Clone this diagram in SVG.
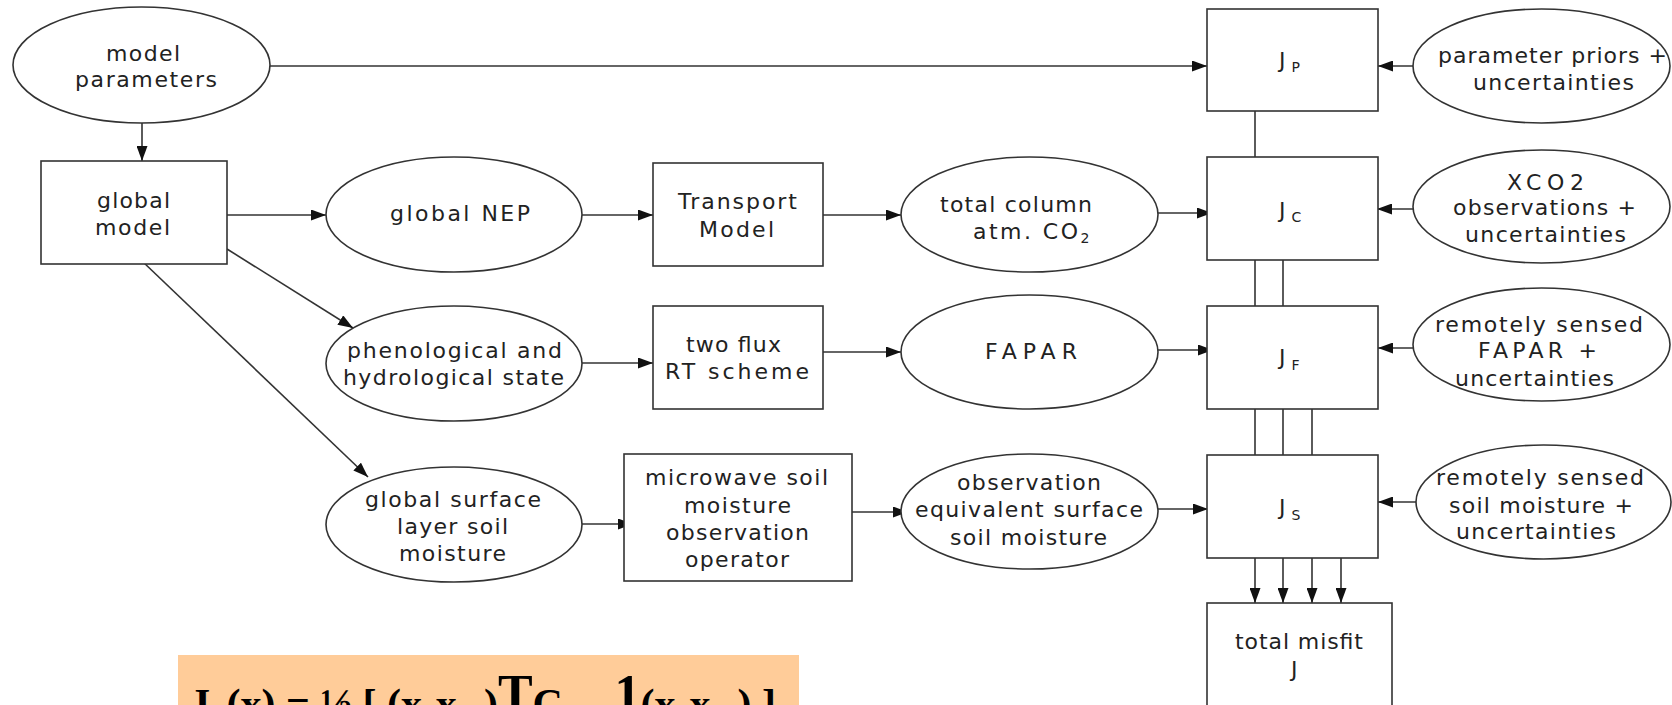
<svg xmlns="http://www.w3.org/2000/svg" width="1672" height="705" viewBox="0 0 1672 705">
<style>
.n ellipse, .n rect { fill:#fff; stroke:#333; stroke-width:1.6; }
.t { font-family:"DejaVu Sans", sans-serif; font-size:22px; fill:#222; }
.s { font-family:"DejaVu Sans", sans-serif; font-size:14px; fill:#222; }
#connectors line { stroke:#333; stroke-width:1.6; fill:none; }
.f { font-family:"Liberation Serif", serif; font-weight:bold; fill:#000; }
</style>
<defs>
<marker id="ah" markerUnits="userSpaceOnUse" markerWidth="15" markerHeight="11" refX="15" refY="5.5" orient="auto">
<path d="M0,0 L15,5.5 L0,11 z" fill="#111"/>
</marker>
</defs>
<rect width="1672" height="705" fill="#fff"/>

<g id="connectors">
<line x1="142" y1="123" x2="142" y2="161" marker-end="url(#ah)"/>
<line x1="270" y1="66" x2="1207" y2="66" marker-end="url(#ah)"/>
<line x1="227" y1="215" x2="326" y2="215" marker-end="url(#ah)"/>
<line x1="227" y1="249" x2="353" y2="328" marker-end="url(#ah)"/>
<line x1="142" y1="261" x2="368" y2="477" marker-end="url(#ah)"/>
<line x1="582" y1="215" x2="653" y2="215" marker-end="url(#ah)"/>
<line x1="582" y1="363" x2="653" y2="363" marker-end="url(#ah)"/>
<line x1="578" y1="524" x2="633" y2="524" marker-end="url(#ah)"/>
<line x1="823" y1="215" x2="901" y2="215" marker-end="url(#ah)"/>
<line x1="823" y1="352" x2="901" y2="352" marker-end="url(#ah)"/>
<line x1="838" y1="512" x2="908" y2="512" marker-end="url(#ah)"/>
<line x1="1158" y1="213" x2="1212" y2="213" marker-end="url(#ah)"/>
<line x1="1158" y1="350" x2="1213" y2="350" marker-end="url(#ah)"/>
<line x1="1158" y1="509" x2="1208" y2="509" marker-end="url(#ah)"/>
<line x1="1415" y1="66" x2="1378" y2="66" marker-end="url(#ah)"/>
<line x1="1413" y1="209" x2="1377" y2="209" marker-end="url(#ah)"/>
<line x1="1415" y1="348" x2="1378" y2="348" marker-end="url(#ah)"/>
<line x1="1418" y1="502" x2="1378" y2="502" marker-end="url(#ah)"/>
<line x1="1255" y1="111" x2="1255" y2="157"/>
<line x1="1255" y1="260" x2="1255" y2="306"/>
<line x1="1283" y1="260" x2="1283" y2="306"/>
<line x1="1255" y1="409" x2="1255" y2="455"/>
<line x1="1283" y1="409" x2="1283" y2="455"/>
<line x1="1312" y1="409" x2="1312" y2="455"/>
<line x1="1255" y1="558" x2="1255" y2="603" marker-end="url(#ah)"/>
<line x1="1283" y1="558" x2="1283" y2="603" marker-end="url(#ah)"/>
<line x1="1312" y1="558" x2="1312" y2="603" marker-end="url(#ah)"/>
<line x1="1341" y1="558" x2="1341" y2="603" marker-end="url(#ah)"/>
</g>

<g id="model-parameters" class="n">
<ellipse cx="141.5" cy="65" rx="128.5" ry="58"/>
<text class="t" x="106" y="61" textLength="74">model</text>
<text class="t" x="75" y="87" textLength="142">parameters</text>
</g>
<g id="global-model" class="n">
<rect x="41" y="161" width="186" height="103"/>
<text class="t" x="97" y="208" textLength="73">global</text>
<text class="t" x="95" y="235" textLength="75">model</text>
</g>
<g id="global-nep" class="n">
<ellipse cx="454" cy="214.5" rx="128" ry="57.5"/>
<text class="t" x="390" y="221" textLength="140">global NEP</text>
</g>
<g id="phenological" class="n">
<ellipse cx="454" cy="363.5" rx="128" ry="57.5"/>
<text class="t" x="347" y="358" textLength="215">phenological and</text>
<text class="t" x="343" y="385" textLength="221">hydrological state</text>
</g>
<g id="surface-soil" class="n">
<ellipse cx="454" cy="524.5" rx="128" ry="57.5"/>
<text class="t" x="365" y="507" textLength="176">global surface</text>
<text class="t" x="397" y="534" textLength="111">layer soil</text>
<text class="t" x="399" y="561" textLength="107">moisture</text>
</g>
<g id="transport-model" class="n">
<rect x="653" y="163" width="170" height="103"/>
<text class="t" x="678" y="209" textLength="119">Transport</text>
<text class="t" x="699" y="237" textLength="75">Model</text>
</g>
<g id="two-flux" class="n">
<rect x="653" y="306" width="170" height="103"/>
<text class="t" x="686" y="352" textLength="95">two flux</text>
<text class="t" x="665" y="379" textLength="144">RT scheme</text>
</g>
<g id="microwave-operator" class="n">
<rect x="624" y="454" width="228" height="127"/>
<text class="t" x="645" y="485" textLength="183">microwave soil</text>
<text class="t" x="684" y="513" textLength="107">moisture</text>
<text class="t" x="666" y="540" textLength="143">observation</text>
<text class="t" x="685" y="567" textLength="104">operator</text>
</g>
<g id="total-column" class="n">
<ellipse cx="1029.5" cy="214.5" rx="128.5" ry="57.5"/>
<text class="t" x="940" y="212" textLength="152">total column</text>
<text class="t" x="973" y="239"><tspan textLength="105">atm. CO</tspan><tspan class="s" dy="4">2</tspan></text>
</g>
<g id="fapar" class="n">
<ellipse cx="1029.5" cy="352" rx="128.5" ry="57"/>
<text class="t" x="985" y="359" textLength="92">FAPAR</text>
</g>
<g id="obs-equivalent" class="n">
<ellipse cx="1029.5" cy="511.5" rx="128.5" ry="57.5"/>
<text class="t" x="957" y="490" textLength="144">observation</text>
<text class="t" x="915" y="517" textLength="228">equivalent surface</text>
<text class="t" x="950" y="545" textLength="157">soil moisture</text>
</g>
<g id="jp" class="n">
<rect x="1207" y="9" width="171" height="102"/>
<text class="t" x="1279" y="68">J<tspan class="s" dx="6" dy="4">P</tspan></text>
</g>
<g id="jc" class="n">
<rect x="1207" y="157" width="171" height="103"/>
<text class="t" x="1279" y="218">J<tspan class="s" dx="6" dy="4">C</tspan></text>
</g>
<g id="jf" class="n">
<rect x="1207" y="306" width="171" height="103"/>
<text class="t" x="1279" y="365">J<tspan class="s" dx="6" dy="5">F</tspan></text>
</g>
<g id="js" class="n">
<rect x="1207" y="455" width="171" height="103"/>
<text class="t" x="1279" y="515">J<tspan class="s" dx="6" dy="5">S</tspan></text>
</g>
<g id="total-misfit" class="n">
<rect x="1207" y="603" width="185" height="120"/>
<text class="t" x="1235" y="649" textLength="128">total misfit</text>
<text class="t" x="1291" y="677">J</text>
</g>
<g id="parameter-priors" class="n">
<ellipse cx="1541.5" cy="66" rx="128.5" ry="57"/>
<text class="t" x="1438" y="63" textLength="229">parameter priors +</text>
<text class="t" x="1473" y="90" textLength="161">uncertainties</text>
</g>
<g id="xco2-obs" class="n">
<ellipse cx="1541.5" cy="206.5" rx="128.5" ry="56.5"/>
<text class="t" x="1507" y="190" textLength="77">XCO2</text>
<text class="t" x="1453" y="215" textLength="183">observations +</text>
<text class="t" x="1465" y="242" textLength="161">uncertainties</text>
</g>
<g id="rs-fapar" class="n">
<ellipse cx="1541.5" cy="344.5" rx="128.5" ry="56.5"/>
<text class="t" x="1435" y="332" textLength="208">remotely sensed</text>
<text class="t" x="1478" y="358" textLength="119">FAPAR +</text>
<text class="t" x="1455" y="386" textLength="159">uncertainties</text>
</g>
<g id="rs-soil" class="n">
<ellipse cx="1543.5" cy="502" rx="127.5" ry="57"/>
<text class="t" x="1436" y="485" textLength="208">remotely sensed</text>
<text class="t" x="1449" y="513" textLength="184">soil moisture +</text>
<text class="t" x="1456" y="539" textLength="160">uncertainties</text>
</g>

<g id="formula">
<rect x="178" y="655" width="621" height="60" fill="#FFCC99"/>
<text class="f" x="189" y="718" font-size="42">J<tspan font-size="27" dy="6">P</tspan><tspan dy="-6">(x) = ½ [ (x-x</tspan><tspan font-size="27" dy="6">pr</tspan><tspan dy="-6">)</tspan><tspan font-size="52" dy="-7">T</tspan><tspan dy="7">C</tspan><tspan font-size="27" dy="6">pr</tspan><tspan dy="-6"> -</tspan><tspan font-size="52" dy="-7">1</tspan><tspan dy="7">(x-x</tspan><tspan font-size="27" dy="6">pr</tspan><tspan dy="-6">) ]</tspan></text>
</g>
</svg>
